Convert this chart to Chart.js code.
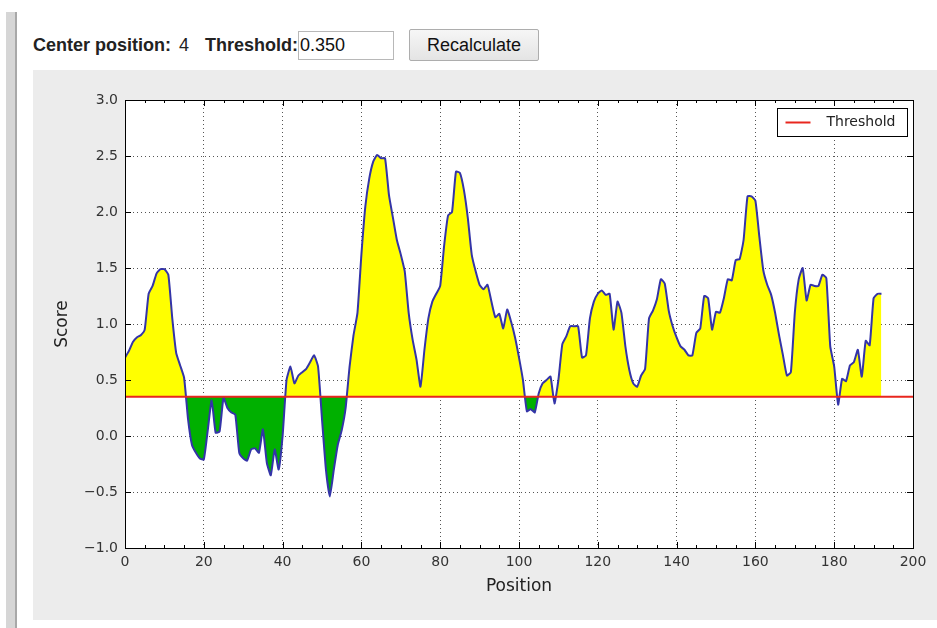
<!DOCTYPE html>
<html>
<head>
<meta charset="utf-8">
<script src="https://cdn.jsdelivr.net/npm/chart.js@4"></script>
<style>
  body { margin: 0; background: #fff; font-family: "Liberation Sans", Arial, sans-serif; }
  #sidebar { position: absolute; left: 6px; top: 12px; width: 9px; height: 616px; background: #d6d6d6; border-right: 2px solid #a8a8a8; }
  #controls { position: absolute; left: 33px; top: 30px; height: 32px; font-size: 18px; color: #222; }
  #controls span, #controls input, #controls button { position: absolute; white-space: nowrap; }
  #controls b { font-weight: bold; }
  #thr { left: 265px; top: 1px; width: 96px; height: 29px; box-sizing: border-box; font-size: 18px; padding: 0 1px; border: 1px solid #b8b8b8; font-family: "Liberation Sans", Arial, sans-serif; color: #111; }
  #btn { left: 376px; top: -1px; width: 130px; height: 32px; font-size: 18px; background: linear-gradient(#f6f6f6, #e4e4e4); border: 1px solid #adadad; border-radius: 2px; font-family: "Liberation Sans", Arial, sans-serif; color: #111; }
  #panel { position: absolute; left: 33px; top: 70px; width: 904px; height: 550px; background: #ececec; }
</style>
</head>
<body>
<div id="sidebar"></div>
<div id="controls">
  <span style="left:0; top:5px"><b>Center position:</b></span>
  <span style="left:146px; top:5px">4</span>
  <span style="left:172px; top:5px"><b>Threshold:</b></span>
  <input id="thr" type="text" value="0.350">
  <button id="btn">Recalculate</button>
</div>
<div id="panel"><canvas id="charts"></canvas></div>
<script>
// score per position
let scores = [
  0.70, 0.76, 0.84, 0.88, 0.90, 0.95, 1.27, 1.34, 1.45, 1.49,
  1.49, 1.44, 1.05, 0.74, 0.63, 0.52, 0.15, -0.08, -0.15, -0.20,
  -0.21, 0.05, 0.32, 0.03, 0.04, 0.34, 0.25, 0.21, 0.19, -0.15,
  -0.20, -0.22, -0.12, -0.11, -0.15, 0.06, -0.24, -0.35, -0.12, -0.30,
  0.00, 0.50, 0.62, 0.47, 0.54, 0.57, 0.60, 0.66, 0.72, 0.62,
  0.15, -0.30, -0.54, -0.30, -0.08, 0.05, 0.25, 0.62, 0.90, 1.10,
  1.62, 2.05, 2.30, 2.45, 2.51, 2.48, 2.48, 2.15, 1.95, 1.75,
  1.62, 1.47, 1.10, 0.86, 0.68, 0.44, 0.77, 1.05, 1.20, 1.27,
  1.34, 1.70, 1.97, 2.00, 2.36, 2.35, 2.20, 1.95, 1.62, 1.47,
  1.35, 1.31, 1.35, 1.20, 1.06, 1.09, 0.96, 1.13, 1.02, 0.88,
  0.70, 0.50, 0.22, 0.24, 0.21, 0.38, 0.47, 0.50, 0.53, 0.29,
  0.50, 0.82, 0.89, 0.98, 0.98, 0.98, 0.70, 0.72, 1.05, 1.20,
  1.27, 1.30, 1.26, 1.27, 0.95, 1.20, 1.10, 0.80, 0.59, 0.47,
  0.44, 0.54, 0.60, 1.05, 1.12, 1.22, 1.40, 1.36, 1.12, 0.98,
  0.88, 0.80, 0.77, 0.72, 0.72, 0.92, 0.96, 1.25, 1.23, 0.95,
  1.11, 1.10, 1.23, 1.40, 1.39, 1.57, 1.58, 1.75, 2.14, 2.14,
  2.10, 1.78, 1.48, 1.35, 1.26, 1.10, 0.90, 0.72, 0.54, 0.57,
  1.10, 1.40, 1.50, 1.21, 1.35, 1.34, 1.34, 1.44, 1.41, 0.80,
  0.62, 0.28, 0.51, 0.49, 0.63, 0.66, 0.77, 0.53, 0.85, 0.81,
  1.23, 1.27, 1.27
];
let positions = scores.map((s, i) => i);
let thresholdValue = 0.35;
let thresholdX = [0, 200];
let xTicks = [0, 20, 40, 60, 80, 100, 120, 140, 160, 180, 200];
let yTicks = [-1.0, -0.5, 0.0, 0.5, 1.0, 1.5, 2.0, 2.5, 3.0];

function fmtY(v) {
    return v.toFixed(1).replace("-", "\u2212");
}

// white plot background, inward ticks and the boxed legend (matplotlib look)
const mplLook = {
    id: "mplLook",
    beforeDraw(chart) {
        const a = chart.chartArea, ctx = chart.ctx;
        ctx.save();
        ctx.fillStyle = "#fff";
        ctx.fillRect(a.left, a.top, a.right - a.left, a.bottom - a.top);
        ctx.restore();
    },
    afterDraw(chart) {
        const a = chart.chartArea, ctx = chart.ctx;
        const xs = chart.scales.x, ys = chart.scales.y;
        ctx.save();
        ctx.strokeStyle = "#000";
        ctx.lineWidth = 1;
        ctx.beginPath();
        for (let v = 0; v <= 200; v += 5) {
            let px = Math.round(xs.getPixelForValue(v)) + 0.5;
            let len = v % 20 === 0 ? 6 : 3;
            ctx.moveTo(px, a.bottom); ctx.lineTo(px, a.bottom - len);
            ctx.moveTo(px, a.top); ctx.lineTo(px, a.top + len);
        }
        yTicks.forEach(v => {
            let py = Math.round(ys.getPixelForValue(v)) + 0.5;
            ctx.moveTo(a.left, py); ctx.lineTo(a.left + 6, py);
            ctx.moveTo(a.right, py); ctx.lineTo(a.right - 6, py);
        });
        ctx.stroke();
        ctx.strokeRect(Math.round(a.left) + 0.5, Math.round(a.top) + 0.5, Math.round(a.right - a.left), Math.round(a.bottom - a.top));

        // legend
        const ds = chart.data.datasets[0];
        const bw = 130, bh = 28;
        const bx = Math.round(a.right - 6 - bw) + 0.5, by = Math.round(a.top + 8) + 0.5;
        ctx.fillStyle = "#fff";
        ctx.fillRect(bx, by, bw, bh);
        ctx.strokeRect(bx, by, bw, bh);
        ctx.strokeStyle = ds.borderColor;
        ctx.lineWidth = 2;
        ctx.beginPath();
        ctx.moveTo(bx + 8, by + 14); ctx.lineTo(bx + 33, by + 14);
        ctx.stroke();
        ctx.fillStyle = "#222";
        ctx.font = "14px 'DejaVu Sans'";
        ctx.textBaseline = "middle";
        ctx.fillText(ds.label, bx + 49, by + 14);
        ctx.restore();
    }
};

new Chart("charts", {
    type: "line",
    data: {
        datasets: [
            {
                label: "Threshold",
                data: thresholdX.map(x => ({x: x, y: thresholdValue})),
                borderColor: "#e8261e",
                borderWidth: 2,
                pointRadius: 0,
                fill: false,
                order: 0
            },
            {
                label: "Score",
                data: positions.map((p, i) => ({x: p, y: scores[i]})),
                borderColor: "#3434a8",
                borderWidth: 2,
                pointRadius: 0,
                tension: 0.15,
                fill: {target: {value: thresholdValue}, above: "#ffff00", below: "#00b000"},
                order: 1
            }
        ]
    },
    options: {
        responsive: true,
        maintainAspectRatio: false,
        animation: false,
        layout: {padding: {left: 0, top: 30, right: 24, bottom: 0}},
        plugins: {legend: {display: false}, tooltip: {enabled: false}},
        scales: {
            x: {
                type: "linear",
                min: 0, max: 200,
                afterFit(s) { s.height = 72; },
                afterBuildTicks(s) { s.ticks = xTicks.map(v => ({value: v})); },
                ticks: {color: "#333", font: {family: "DejaVu Sans", size: 14}, padding: 6, maxRotation: 0},
                grid: {color: "#555", drawTicks: false, lineWidth: 1},
                border: {display: false, dash: [1, 3]},
                title: {display: true, text: "Position", color: "#222", font: {family: "DejaVu Sans", size: 17}, padding: {bottom: 23, top: 0}}
            },
            y: {
                min: -1, max: 3,
                afterFit(s) { s.width = 92; },
                afterBuildTicks(s) { s.ticks = yTicks.map(v => ({value: v})); },
                ticks: {color: "#333", font: {family: "DejaVu Sans", size: 14}, padding: 7, callback: v => fmtY(v)},
                grid: {color: "#555", drawTicks: false, lineWidth: 1},
                border: {display: false, dash: [1, 3]},
                title: {display: true, text: "Score", color: "#222", font: {family: "DejaVu Sans", size: 17}, padding: {top: 19, bottom: 0}}
            }
        }
    },
    plugins: [mplLook]
});
</script>
</body>
</html>
